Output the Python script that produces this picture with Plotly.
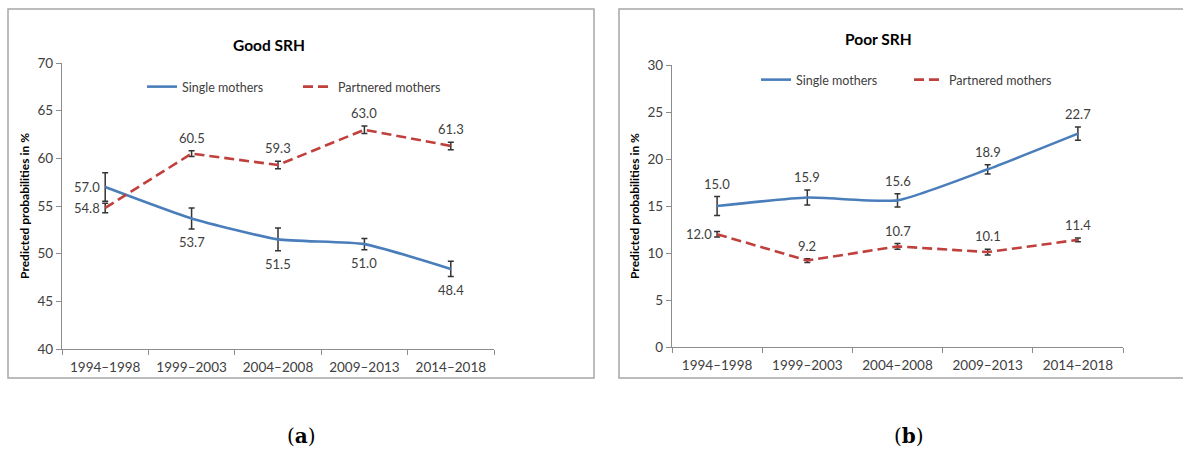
import plotly.graph_objects as go

periods = ["1994–1998", "1999–2003", "2004–2008", "2009–2013", "2014–2018"]

# Good self-rated health (%)
good_single = [57.0, 53.7, 51.5, 51.0, 48.4]
good_single_err = [1.5, 1.1, 1.2, 0.6, 0.8]
good_partnered = [54.8, 60.5, 59.3, 63.0, 61.3]
good_partnered_err = [0.5, 0.3, 0.4, 0.4, 0.4]

# Poor self-rated health (%)
poor_single = [15.0, 15.9, 15.6, 18.9, 22.7]
poor_single_err = [1.0, 0.8, 0.7, 0.5, 0.7]
poor_partnered = [12.0, 9.2, 10.7, 10.1, 11.4]
poor_partnered_err = [0.3, 0.2, 0.3, 0.3, 0.2]

# label placement per point: "L" left, "T" above, "B" below
good_single_pos = ["L", "B", "B", "B", "B"]
good_partnered_pos = ["L", "T", "T", "T", "T"]
poor_single_pos = ["T", "T", "T", "T", "T"]
poor_partnered_pos = ["L", "T", "T", "T", "T"]

BLUE = "#4A7EBB"
RED = "#C0403D"
TXT = "#404040"
AX = "#8C8C8C"
FONT = "Lato, 'Open Sans', sans-serif"

W, H = 1183, 450


def px(x):
    return x / W


def py(y):
    return 1 - y / H


def series(x_ax, y_ax, y, err, color, dash, name, legend, shape):
    return go.Scatter(
        x=periods, y=y, xaxis=x_ax, yaxis=y_ax, name=name, legend=legend,
        mode="lines",
        line=dict(color=color, width=2.6, dash=dash, shape=shape, smoothing=0.5),
        error_y=dict(type="data", array=err, visible=True, color="#333333",
                     thickness=1.5, width=3),
    )


def labels(x_ax, y_ax, y, err, pos, yscale):
    # yscale: pixels per data unit, used to clear the error bar caps
    out = []
    for cat, v, e, p in zip(periods, y, err, pos):
        a = dict(x=cat, y=v, xref=x_ax, yref=y_ax, text=f"{v:.1f}",
                 showarrow=False, xanchor="center",
                 font=dict(family=FONT, size=13, color=TXT))
        if p == "L":
            a.update(xanchor="right", xshift=-3, yanchor="middle")
        elif p == "T":
            a.update(yanchor="bottom", yshift=e * yscale + 3)
        else:
            a.update(yanchor="top", yshift=-(e * yscale + 3))
        out.append(a)
    return out


fig = go.Figure()
fig.add_trace(series("x", "y", good_single, good_single_err, BLUE, "solid",
                     "Single mothers", "legend", "spline"))
fig.add_trace(series("x", "y", good_partnered, good_partnered_err, RED,
                     "10px,5px", "Partnered mothers", "legend", "linear"))
fig.add_trace(series("x2", "y2", poor_single, poor_single_err, BLUE, "solid",
                     "Single mothers", "legend2", "spline"))
fig.add_trace(series("x2", "y2", poor_partnered, poor_partnered_err, RED,
                     "10px,5px", "Partnered mothers", "legend2", "linear"))

xcommon = dict(type="category", range=[-0.5, 4.5], showline=True,
               linecolor=AX, linewidth=1.2, ticks="outside",
               tickson="boundaries", ticklen=5, tickcolor=AX,
               ticklabelstandoff=6, showgrid=False, zeroline=False,
               automargin=False,
               tickfont=dict(family=FONT, size=13.5, color=TXT))
ycommon = dict(showline=True, linecolor=AX, linewidth=1.2, ticks="outside",
               ticklen=5, tickcolor=AX, showgrid=False, zeroline=False,
               automargin=False,
               tickfont=dict(family=FONT, size=13.5, color=TXT),
               title=dict(text="<b>Predicted probabilities in %</b>",
                          font=dict(family=FONT, size=12, color="#000000"),
                          standoff=5))

legend_common = dict(orientation="h", bgcolor="rgba(0,0,0,0)",
                     font=dict(family=FONT, size=12.5, color=TXT),
                     itemwidth=30, entrywidthmode="pixels", entrywidth=111,
                     xanchor="left", yanchor="middle", tracegroupgap=0)

L_TOP, L_BOT = 63, 349
R_TOP, R_BOT = 65, 347

annotations = []
annotations += labels("x", "y", good_single, good_single_err, good_single_pos,
                      (L_BOT - L_TOP) / 30)
annotations += labels("x", "y", good_partnered, good_partnered_err,
                      good_partnered_pos, (L_BOT - L_TOP) / 30)
annotations += labels("x2", "y2", poor_single, poor_single_err, poor_single_pos,
                      (R_BOT - R_TOP) / 30)
annotations += labels("x2", "y2", poor_partnered, poor_partnered_err,
                      poor_partnered_pos, (R_BOT - R_TOP) / 30)


def paper_text(text, x, y, family, size):
    return dict(text=text, xref="paper", yref="paper", x=px(x), y=py(y),
                xanchor="center", yanchor="middle", showarrow=False,
                font=dict(family=family, size=size, color="#000000"))


annotations += [
    paper_text("<b>Good SRH</b>", 269, 45, FONT, 15.5),
    paper_text("<b>Poor SRH</b>", 878, 39, FONT, 15.5),
    paper_text("(<b>a</b>)", 301, 436, "'DejaVu Serif', serif", 20),
    paper_text("(<b>b</b>)", 909, 436, "'DejaVu Serif', serif", 20),
]

fig.update_layout(
    width=W, height=H, margin=dict(l=0, r=0, t=0, b=0),
    paper_bgcolor="white", plot_bgcolor="white",
    showlegend=True,
    xaxis=dict(xcommon, domain=[px(62), px(494)], anchor="y"),
    yaxis=dict(ycommon, domain=[py(L_BOT), py(L_TOP)], range=[40, 70], dtick=5,
               anchor="x"),
    xaxis2=dict(xcommon, domain=[px(672), px(1123)], anchor="y2"),
    yaxis2=dict(ycommon, domain=[py(R_BOT), py(R_TOP)], range=[0, 30], dtick=5,
                anchor="x2"),
    legend=dict(legend_common, x=px(142), y=py(87)),
    legend2=dict(legend_common, x=px(756), y=py(80), entrywidth=108),
    shapes=[
        dict(type="rect", xref="paper", yref="paper", x0=px(8), x1=px(594),
             y0=py(378), y1=py(9), line=dict(color="#A6A6A6", width=1.5)),
        dict(type="rect", xref="paper", yref="paper", x0=px(619), x1=px(1190),
             y0=py(378), y1=py(9), line=dict(color="#A6A6A6", width=1.5)),
    ],
    annotations=annotations,
)

fig.write_html("out.html")
